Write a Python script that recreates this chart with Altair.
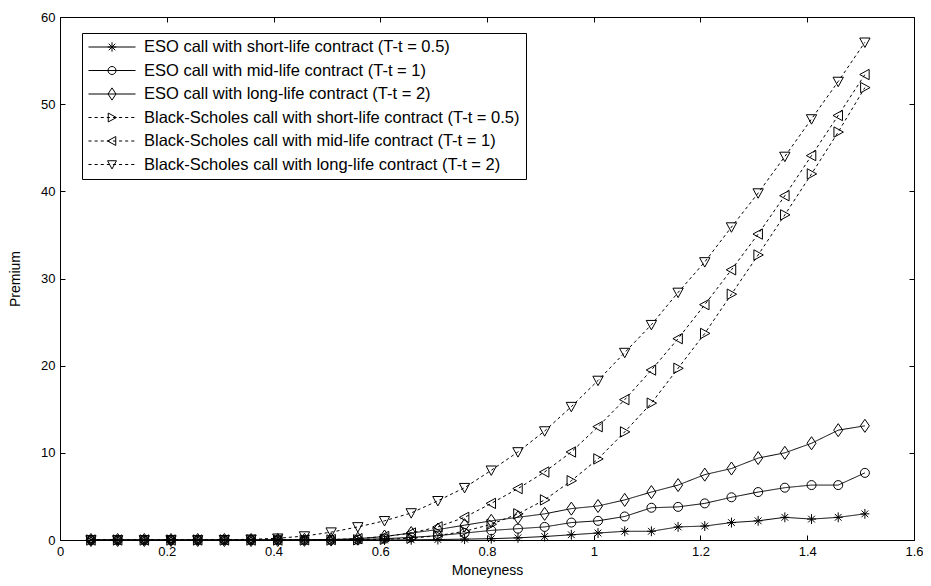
import altair as alt
import pandas as pd

moneyness = [0.058, 0.108, 0.158, 0.208, 0.258, 0.308, 0.358, 0.408, 0.458, 0.508,
             0.558, 0.608, 0.658, 0.708, 0.758, 0.808, 0.858, 0.908, 0.958, 1.008,
             1.058, 1.108, 1.158, 1.208, 1.258, 1.308, 1.358, 1.408, 1.458, 1.508]

eso_short = [0, 0, 0, 0, 0, 0, 0, 0, 0, 0,
             0, 0, 0.02, 0.05, 0.1, 0.15, 0.25, 0.4, 0.6, 0.8,
             1.0, 1.0, 1.5, 1.6, 2.0, 2.2, 2.6, 2.4, 2.6, 3.0]
eso_mid = [0, 0, 0, 0, 0, 0, 0, 0, 0, 0.02,
           0.05, 0.15, 0.3, 0.5, 0.8, 1.1, 1.3, 1.5, 2.0, 2.2,
           2.7, 3.7, 3.8, 4.2, 4.9, 5.5, 6.0, 6.3, 6.3, 7.7]
eso_long = [0, 0, 0, 0, 0, 0, 0, 0, 0.02, 0.05,
            0.15, 0.4, 0.8, 1.2, 1.7, 2.2, 2.6, 3.0, 3.6, 3.9,
            4.6, 5.5, 6.3, 7.5, 8.2, 9.4, 10.0, 11.1, 12.6, 13.1]
bs_short = [0, 0, 0, 0, 0, 0, 0, 0, 0, 0,
            0.02, 0.08, 0.2, 0.5, 1.0, 1.8, 3.0, 4.6, 6.8, 9.3,
            12.4, 15.7, 19.7, 23.7, 28.2, 32.7, 37.3, 42.0, 46.8, 51.9]
bs_mid = [0, 0, 0, 0, 0, 0, 0, 0, 0.02, 0.05,
          0.15, 0.4, 0.8, 1.5, 2.6, 4.2, 5.9, 7.8, 10.1, 13.0,
          16.1, 19.5, 23.1, 27.0, 31.0, 35.1, 39.5, 44.1, 48.7, 53.4]
bs_long = [0, 0, 0, 0, 0, 0.03, 0.08, 0.2, 0.45, 0.9,
           1.5, 2.2, 3.1, 4.5, 6.0, 8.0, 10.1, 12.5, 15.3, 18.3,
           21.5, 24.7, 28.4, 31.9, 35.9, 39.8, 44.0, 48.3, 52.6, 57.1]

series_names = [
    "ESO call with short-life contract (T-t = 0.5)",
    "ESO call with mid-life contract (T-t = 1)",
    "ESO call with long-life contract (T-t = 2)",
    "Black-Scholes call with short-life contract (T-t = 0.5)",
    "Black-Scholes call with mid-life contract (T-t = 1)",
    "Black-Scholes call with long-life contract (T-t = 2)",
]
series_styles = ["solid", "solid", "solid", "dashed", "dashed", "dashed"]
series_values = [eso_short, eso_mid, eso_long, bs_short, bs_mid, bs_long]

x_ticks = [0, 0.2, 0.4, 0.6, 0.8, 1.0, 1.2, 1.4, 1.6]
y_ticks = [0, 10, 20, 30, 40, 50, 60]

rows = []
for name, style, vals in zip(series_names, series_styles, series_values):
    for xv, yv in zip(moneyness, vals):
        rows.append({"Moneyness": xv, "Premium": yv, "series": name, "style": style})
df = pd.DataFrame(rows)

# plot marker shapes (unit paths)
plot_shapes = [
    "M0,-1.1L0,1.1M-1,0L1,0M-0.75,-0.75L0.75,0.75M-0.75,0.75L0.75,-0.75",
    "circle",
    "M0,-1.45L1,0L0,1.45L-1,0Z",
    "M-0.95,-1.15L1.15,0L-0.95,1.15Z",
    "M0.95,-1.15L-1.15,0L0.95,1.15Z",
    "M-1.15,-0.95L1.15,-0.95L0,1.15Z",
]

# legend symbols: line sample + marker in one path
def solid_line():
    return "M-1,0L1,0"

def dashed_line():
    segs = []
    x = -1.0
    while x < 1.0:
        segs.append("M%.3f,0L%.3f,0" % (x, min(x + 0.13, 1.0)))
        x += 0.26
    return "".join(segs)

legend_markers = [
    "M0,-0.2L0,0.2M-0.18,0L0.18,0M-0.14,-0.14L0.14,0.14M-0.14,0.14L0.14,-0.14",
    "M-0.17,0A0.17,0.17,0,1,0,0.17,0A0.17,0.17,0,1,0,-0.17,0Z",
    "M0,-0.26L0.17,0L0,0.26L-0.17,0Z",
    "M-0.16,-0.19L0.19,0L-0.16,0.19Z",
    "M0.16,-0.19L-0.19,0L0.16,0.19Z",
    "M-0.19,-0.16L0.19,-0.16L0,0.19Z",
]
legend_shapes = [
    (solid_line() if st == "solid" else dashed_line()) + mk
    for st, mk in zip(series_styles, legend_markers)
]

W, H = 854, 523

x_enc = alt.X("Moneyness:Q", scale=alt.Scale(domain=[0, 1.6], nice=False),
              axis=alt.Axis(values=x_ticks, format="~g", title="Moneyness", labelFlush=False,
                            grid=True, gridDash=[5, H - 10, 5], titlePadding=5))
y_enc = alt.Y("Premium:Q", scale=alt.Scale(domain=[0, 60], nice=False),
              axis=alt.Axis(values=y_ticks, title="Premium", labelFlush=False,
                            grid=True, gridDash=[5, W - 10, 5], titlePadding=18))

lines = alt.Chart(df).mark_line(color="black", strokeWidth=1).encode(
    x=x_enc, y=y_enc, detail="series:N",
    strokeDash=alt.StrokeDash("style:N", scale=alt.Scale(domain=["solid", "dashed"],
                                                          range=[[1, 0], [3, 3]]), legend=None),
)

points = alt.Chart(df).mark_point(filled=False, color="black", strokeWidth=1, size=81, opacity=1).encode(
    x=x_enc, y=y_enc,
    shape=alt.Shape("series:N", scale=alt.Scale(domain=series_names, range=plot_shapes), legend=None),
)

legend_layer = alt.Chart(df).mark_point(filled=False, color="black", opacity=0, size=10).encode(
    x=x_enc, y=y_enc,
    shape=alt.Shape("series:N", scale=alt.Scale(domain=series_names, range=legend_shapes),
                    legend=alt.Legend(title=None, orient="none", legendX=22, legendY=16,
                                      direction="vertical",
                                      symbolSize=2209, clipHeight=16, rowPadding=6.5,
                                      padding=6, labelOffset=8,
                                      symbolOpacity=1, symbolStrokeColor="black",
                                      symbolFillColor="transparent", symbolStrokeWidth=1,
                                      strokeColor="black", fillColor="white",
                                      labelFont="Liberation Sans", labelFontSize=16.5,
                                      labelColor="black", labelLimit=700)),
)

chart = alt.layer(lines, points, legend_layer).resolve_scale(shape="independent").properties(
    width=W, height=H,
    padding={"left": 52, "top": 9, "right": 9, "bottom": 38},
    autosize=alt.AutoSizeParams(type="none"),
    background="white",
).configure_view(stroke="black", strokeWidth=1).configure_axis(
    domain=False, ticks=False, tickSize=0, gridColor="black", gridOpacity=1, gridWidth=1,
    labelFont="Liberation Sans", labelFontSize=13, labelColor="black", labelPadding=5,
    titleFont="Liberation Sans", titleFontSize=14, titleFontWeight="normal", titleColor="black",
)

chart.save("out.html", embed_options={"renderer": "svg", "actions": False})
